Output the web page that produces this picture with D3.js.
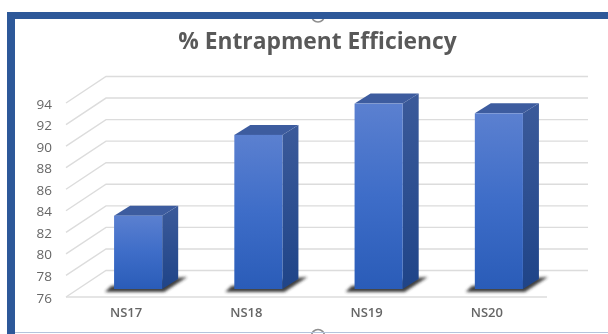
<!DOCTYPE html>
<html><head><meta charset="utf-8">
<script src="https://cdn.jsdelivr.net/npm/d3@7"></script>
<style>html,body{margin:0;padding:0;background:#fff;overflow:hidden}svg{display:block;filter:blur(.55px)}text{font-family:"Open Sans",sans-serif}</style>
</head><body><svg id="c" width="608" height="334"></svg>
<script>
const categories = ["NS17","NS18","NS19","NS20"];
const values = [82.8,90.3,93.2,92.3];
const ticks = [76,78,80,82,84,86,88,90,92,94];
const titleText = "% Entrapment Efficiency";

const svg = d3.select("#c");
const defs = svg.append("defs");
const fg = defs.append("linearGradient").attr("id","front").attr("x1",0).attr("x2",0).attr("y1",0).attr("y2",1);
fg.append("stop").attr("offset",0).attr("stop-color","#5b80d0");
fg.append("stop").attr("offset",.5).attr("stop-color","#3e6dc8");
fg.append("stop").attr("offset",1).attr("stop-color","#2a5cb8");
const sg = defs.append("linearGradient").attr("id","side").attr("x1",0).attr("x2",0).attr("y1",0).attr("y2",1);
sg.append("stop").attr("offset",0).attr("stop-color","#3b5a9a");
sg.append("stop").attr("offset",1).attr("stop-color","#1f4488");
defs.append("filter").attr("id","sh").attr("x","-20%").attr("y","-50%").attr("width","140%").attr("height","200%")
  .append("feGaussianBlur").attr("stdDeviation",1.5);

const depthX = 40, depthY = 26.5;      // wall offset
const barDX = 16, barDY = 10;          // bar depth
const planeX = 12, planeY = 8;         // bar plane offset from the front
const x = d3.scaleBand().domain(categories).range([66,547]).paddingInner(0.6).paddingOuter(0.3);
const y = d3.scaleLinear().domain([76,94]).range([297,103]);

// gridlines
const grid = svg.append("g").attr("fill","none").attr("stroke","#dcdcdc").attr("stroke-width",1.4);
ticks.forEach(t=>{
  const p = d3.path();
  p.moveTo(66,y(t)); p.lineTo(66+depthX,y(t)-depthY);
  p.lineTo(588,y(t)-depthY);
  grid.append("path").attr("d",p.toString());
});
grid.append("line").attr("x1",66).attr("x2",547).attr("y1",y(76)).attr("y2",y(76));

// y labels
svg.append("g").selectAll("text").data(ticks).join("text")
  .attr("x",52).attr("y",d=>y(d)+2).attr("text-anchor","end").attr("dominant-baseline","middle")
  .attr("font-size",13.5).attr("font-weight",500).attr("fill","#666").text(d=>d);

// x labels
svg.append("g").selectAll("text").data(categories).join("text")
  .attr("x",d=>x(d)+x.bandwidth()/2).attr("y",314).attr("text-anchor","middle").attr("dominant-baseline","middle")
  .attr("font-size",13).attr("font-weight",600).attr("fill","#666").text(d=>d);

// bars
const bars = svg.append("g").selectAll("g").data(categories.map((c,i)=>({c,v:values[i]}))).join("g");
const L = d=>x(d.c)+planeX, W = x.bandwidth(), T = d=>y(d.v)-planeY, B = y(76)-planeY;
const poly = pts=>"M"+pts.map(p=>p.join(",")).join("L")+"Z";
bars.append("path").attr("filter","url(#sh)").attr("fill","#2a2a2a").attr("opacity",.9)
  .attr("d",d=>poly([[L(d)-9,B+3],[L(d)+W+2,B+3],[L(d)+W+25,B-12],[L(d)+W+12,B-11],[L(d)-3,B-3]]));
bars.append("path").attr("fill","url(#side)")
  .attr("d",d=>poly([[L(d)+W,T(d)],[L(d)+W+barDX,T(d)-barDY],[L(d)+W+barDX,B-barDY],[L(d)+W,B]]));
bars.append("path").attr("fill","#3d5c9f")
  .attr("d",d=>poly([[L(d),T(d)],[L(d)+barDX,T(d)-barDY],[L(d)+W+barDX,T(d)-barDY],[L(d)+W,T(d)]]));
bars.append("rect").attr("x",L).attr("y",T).attr("width",W).attr("height",d=>B-T(d)).attr("fill","url(#front)");

// title
svg.append("text").attr("x",317.5).attr("y",43).attr("text-anchor","middle").attr("dominant-baseline","middle")
  .attr("font-size",22.8).attr("font-weight",700).attr("fill","#595959").text(titleText);

// handles, cut off by the frame and the picture edge
[15.5,336].forEach(cy=>svg.append("circle").attr("cx",318).attr("cy",cy).attr("r",6.5).attr("fill","#fff").attr("stroke","#8f8f8f").attr("stroke-width",1.6));
svg.append("rect").attr("x",300).attr("y",0).attr("width",40).attr("height",12).attr("fill","#fff");
// frame
svg.append("path").attr("fill","#2d5899").attr("d","M7,12H608V19H15V334H7Z");
svg.append("line").attr("x1",15).attr("x2",608).attr("y1",332.5).attr("y2",332.5).attr("stroke","#b4c4dc").attr("stroke-width",1);
</script></body></html>
